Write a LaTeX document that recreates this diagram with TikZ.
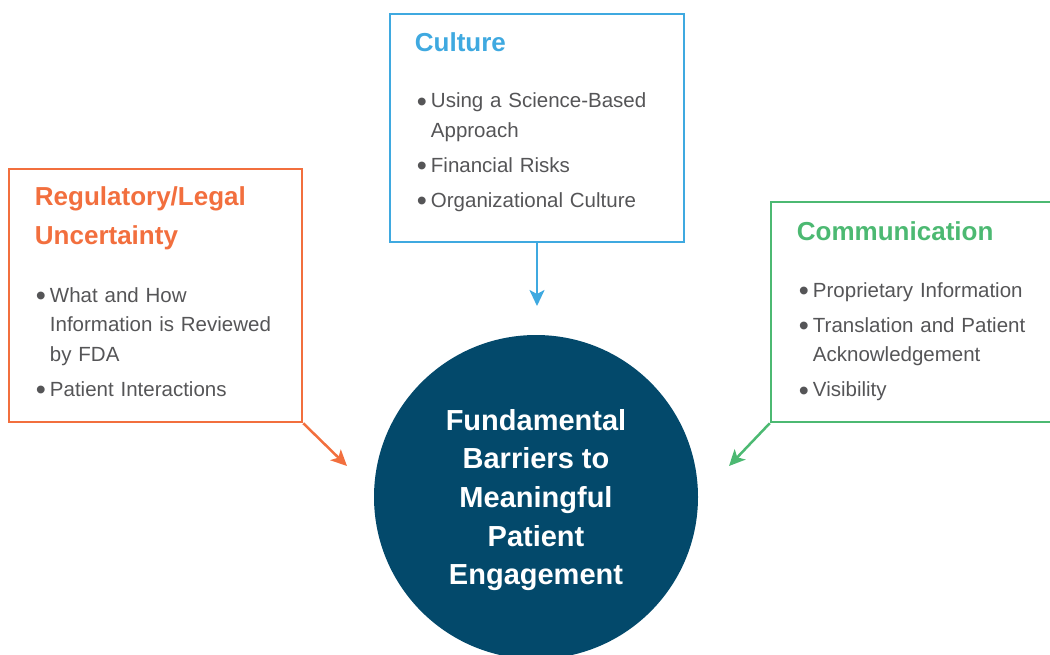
\documentclass[tikz,border=0pt]{standalone}
\usepackage{fontspec}
\setmainfont{Liberation Sans}
\usetikzlibrary{
	positioning,
	arrows.meta
}
\definecolor{regcolor}{HTML}{F26F3E}
\definecolor{culcolor}{HTML}{3FA9E0}
\definecolor{comcolor}{HTML}{4CB972}
\definecolor{corecolor}{HTML}{03496B}
\definecolor{textcolor}{HTML}{555557}
\tikzset{
	boxnode/.style={
		draw=#1,
		line width=2.5pt,
		rectangle,
		inner sep=0pt
	},
	titlenode/.style={
		text=#1,
		anchor=base west,
		inner sep=0pt,
		text width=270pt,
		align=left,
		font=\fontsize{26}{39}\selectfont\bfseries
	},
	listnode/.style={
		text=textcolor,
		anchor=base west,
		inner sep=0pt,
		text width=270pt,
		align=left,
		font=\fontsize{20.5}{29.5}\selectfont
	},
	corenode/.style={
		circle,
		fill=corecolor,
		minimum size=324pt,
		inner sep=0pt
	},
	coretext/.style={
		text=white,
		inner sep=0pt,
		align=center,
		font=\fontsize{29}{38.6}\selectfont\bfseries
	},
	arrow/.style={
		-{Stealth[length=16pt,width=15pt,inset=4pt]},
		color=#1,
		line width=2.5pt
	}
}
% one bullet point, later lines hang under the text
\newcommand{\bitem}[1]{\parskip=5.5pt\noindent\hangindent=15pt\hangafter=1%
	\makebox[15pt][l]{\hspace{1pt}\raisebox{-3.6pt}{\scalebox{1.4}{\textbullet}}}#1\par}

\begin{document}
\begin{tikzpicture}[x=1pt,y=-1pt]
	\useasboundingbox (0,0) rectangle (1050,654);
	
	% Centre circle
	\node[corenode] (core) at (536,497) {};
	\node[coretext] (coreText) at ([yshift=-3pt]core.center)
	{Fundamental\\Barriers to\\Meaningful\\Patient\\Engagement};
	
	% Culture (top)
	\node[boxnode=culcolor, minimum width=294pt, minimum height=228pt] (culture) at (537,128) {};
	\node[titlenode=culcolor] (cultureHead) at ([shift={(26,39)}]culture.north west) {Culture};
	\node[listnode] (cultureList) at ([shift={(27,95)}]culture.north west)
	{\bitem{Using a Science-Based\newline Approach}
		\bitem{Financial Risks}
		\bitem{Organizational Culture}};
	
	% Regulatory/Legal (left)
	\node[boxnode=regcolor, minimum width=293pt, minimum height=253pt] (regulatory) at (155.5,295.5) {};
	\node[titlenode=regcolor] (regulatoryHead) at ([shift={(27,38)}]regulatory.north west) {Regulatory/Legal\\Uncertainty};
	\node[listnode] (regulatoryList) at ([shift={(27,134.5)}]regulatory.north west)
	{\bitem{What and How\newline Information is Reviewed\newline by FDA}
		\bitem{Patient Interactions}};
	
	% Communication (right)
	\node[boxnode=comcolor, minimum width=289pt, minimum height=220pt] (communication) at (915.5,312) {};
	\node[titlenode=comcolor] (communicationHead) at ([shift={(27,40)}]communication.north west) {Communication};
	\node[listnode] (communicationList) at ([shift={(28,96.5)}]communication.north west)
	{\bitem{Proprietary Information}
		\bitem{Translation and Patient\newline Acknowledgement}
		\bitem{Visibility}};
	
	% Arrow ends
	\coordinate (cultureEnd) at (537,306);
	\coordinate (regulatoryEnd) at (347,466);
	\coordinate (communicationEnd) at (729,466);
	
	% Arrows
	\draw[arrow=culcolor] (culture.south) -- (cultureEnd);
	\draw[arrow=regcolor] (regulatory.south east) -- (regulatoryEnd);
	\draw[arrow=comcolor] (communication.south west) -- (communicationEnd);
	
\end{tikzpicture}
\end{document}
